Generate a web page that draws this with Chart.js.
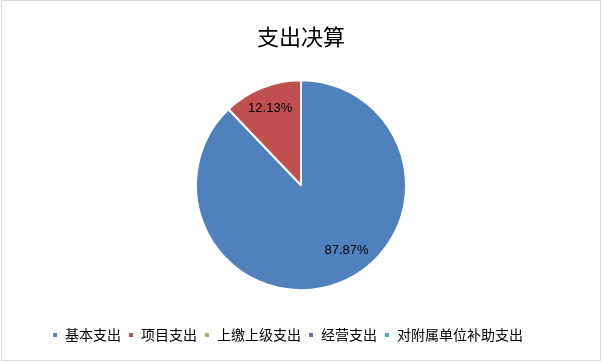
<!DOCTYPE html>
<html lang="zh">
<head>
  <meta charset="UTF-8">
  <title>支出决算</title>
  <script src="https://cdn.jsdelivr.net/npm/chart.js"></script>
  <style>
    body, html {
      margin: 0;
      padding: 0;
      background: #fff;
      overflow: hidden;
    }
    .wrap {
      position: relative;
      width: 602px;
      height: 362px;
    }
    .frame {
      position: absolute;
      left: 1px;
      top: 0;
      width: 598px;
      height: 359px;
      border: 1px solid #d9d9d9;
      pointer-events: none;
    }
  </style>
</head>
<body>
  <div class="wrap">
    <canvas id="pie" width="602" height="362"></canvas>
    <div class="frame"></div>
  </div>

  <script>
    // chart data
    const categories = ['基本支出', '项目支出', '上缴上级支出', '经营支出', '对附属单位补助支出'];
    const shares = [87.87, 12.13, 0, 0, 0];
    const colors = ['#4F81BD', '#C0504D', '#9BBB59', '#8064A2', '#4BACC6'];

    // percent labels on the slices (roughly where excel put them)
    const sliceLabels = {
      id: 'sliceLabels',
      afterDatasetsDraw(chart) {
        const ctx = chart.ctx;
        const meta = chart.getDatasetMeta(0);
        ctx.save();
        ctx.font = '13px "Liberation Sans", Arial, sans-serif';
        ctx.fillStyle = '#000';
        ctx.textAlign = 'center';
        ctx.textBaseline = 'middle';
        meta.data.forEach((arc, i) => {
          const v = shares[i];
          if (!v) return;
          const p = arc.getProps(['x', 'y', 'startAngle', 'endAngle', 'outerRadius'], true);
          let mid = (p.startAngle + p.endAngle) / 2;
          let f = 0.79;
          if (i === 0) { mid -= 13 * Math.PI / 180; f = 0.76; }
          const x = p.x + Math.cos(mid) * p.outerRadius * f;
          const y = p.y + Math.sin(mid) * p.outerRadius * f;
          ctx.fillText(v.toFixed(2) + '%', x, y);
        });
        ctx.restore();
      }
    };

    new Chart(document.getElementById('pie'), {
      type: 'pie',
      data: {
        labels: categories,
        datasets: [{
          data: shares,
          backgroundColor: colors,
          borderColor: '#fff',
          borderWidth: 2,
          radius: 105
        }]
      },
      options: {
        responsive: false,
        animation: false,
        rotation: 0,
        layout: { padding: { top: 0, bottom: 10, left: 45, right: 45 } },
        plugins: {
          title: {
            display: true,
            text: '支出决算',
            color: '#000',
            font: { family: '"Noto Sans CJK SC", sans-serif', size: 22, weight: 'normal' },
            padding: { top: 23, bottom: 0 }
          },
          legend: {
            position: 'bottom',
            align: 'start',
            labels: {
              color: '#000',
              boxWidth: 6,
              boxHeight: 6,
              padding: 7,
              font: { family: '"Noto Sans CJK SC", sans-serif', size: 14 }
            }
          },
          tooltip: { enabled: false }
        }
      },
      plugins: [sliceLabels]
    });
  </script>
</body>
</html>
